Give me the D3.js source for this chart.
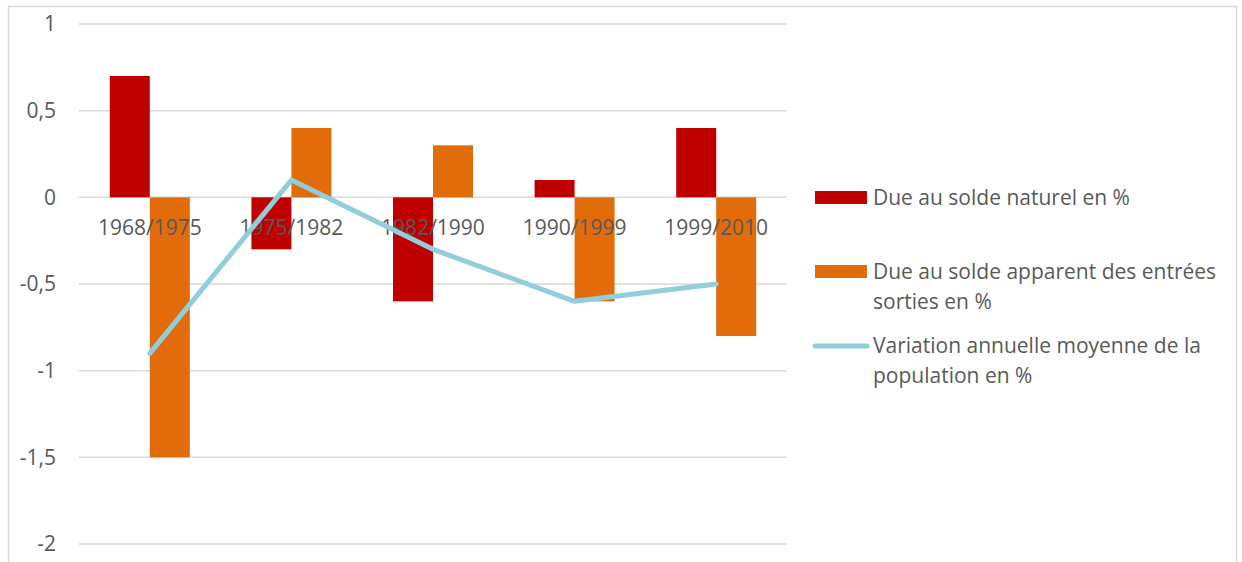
<!DOCTYPE html>
<html>
<head>
<meta charset="utf-8">
<script src="https://cdn.jsdelivr.net/npm/d3@7"></script>
<style>
  body { margin: 0; background: #fff; }
  text { font-family: "Open Sans", sans-serif; fill: #595959; }
</style>
</head>
<body>
<div id="chart"></div>
<script>
var categories = ["1968/1975", "1975/1982", "1982/1990", "1990/1999", "1999/2010"];
var soldeNaturel = [0.7, -0.3, -0.6, 0.1, 0.4];
var soldeApparent = [-1.5, 0.4, 0.3, -0.6, -0.8];
var variation = [-0.9, 0.1, -0.3, -0.6, -0.5];
var yTicks = [1, 0.5, 0, -0.5, -1, -1.5, -2];

var w = 1242;
var h = 562;

var svg = d3.select("#chart").append("svg")
    .attr("width", w)
    .attr("height", h);

// outer frame
svg.append("rect")
    .attr("x", 8.5)
    .attr("y", 6.5)
    .attr("width", 1228)
    .attr("height", 620)
    .attr("fill", "none")
    .attr("stroke", "#d9d9d9")
    .attr("stroke-width", 1.5);

var x = d3.scaleBand()
    .domain(categories)
    .range([79, 787])
    .padding(0);

var y = d3.scaleLinear()
    .domain([-2, 1])
    .range([544, 24]);

var barW = 40;

// gridlines
svg.selectAll(".grid")
    .data(yTicks)
    .enter()
    .append("line")
    .attr("class", "grid")
    .attr("x1", 79)
    .attr("x2", 787)
    .attr("y1", function(d) { return y(d); })
    .attr("y2", function(d) { return y(d); })
    .attr("stroke", "#d9d9d9")
    .attr("stroke-width", 1.5);

// y tick labels
svg.selectAll(".ytick")
    .data(yTicks)
    .enter()
    .append("text")
    .attr("class", "ytick")
    .attr("x", 56)
    .attr("y", function(d) { return y(d); })
    .attr("dy", "0.35em")
    .attr("text-anchor", "end")
    .style("font-size", "21px")
    .text(function(d) { return String(d).replace(".", ","); });

var centers = categories.map(function(c) { return x(c) + x.bandwidth() / 2; });

svg.selectAll(".bar-nat")
    .data(soldeNaturel)
    .enter()
    .append("rect")
    .attr("class", "bar-nat")
    .attr("x", function(d, i) { return centers[i] - barW; })
    .attr("width", barW)
    .attr("y", function(d) { return y(Math.max(0, d)); })
    .attr("height", function(d) { return Math.abs(y(d) - y(0)); })
    .attr("fill", "#c00000");

svg.selectAll(".bar-app")
    .data(soldeApparent)
    .enter()
    .append("rect")
    .attr("class", "bar-app")
    .attr("x", function(d, i) { return centers[i]; })
    .attr("width", barW)
    .attr("y", function(d) { return y(Math.max(0, d)); })
    .attr("height", function(d) { return Math.abs(y(d) - y(0)); })
    .attr("fill", "#e36c0a");

// category labels
svg.selectAll(".cat-label")
    .data(categories)
    .enter()
    .append("text")
    .attr("class", "cat-label")
    .attr("x", function(d, i) { return centers[i]; })
    .attr("y", 228)
    .attr("dy", "0.35em")
    .attr("text-anchor", "middle")
    .style("font-size", "21px")
    .text(function(d) { return d; });

var line = d3.line()
    .x(function(d, i) { return centers[i]; })
    .y(function(d) { return y(d); });

svg.append("path")
    .datum(variation)
    .attr("d", line)
    .attr("fill", "none")
    .attr("stroke", "#92cddc")
    .attr("stroke-width", 5)
    .attr("stroke-linecap", "round")
    .attr("stroke-linejoin", "round");

// legend
var lg = svg.append("g");
lg.append("rect").attr("x", 815).attr("y", 191).attr("width", 52).attr("height", 13).attr("fill", "#c00000");
lg.append("rect").attr("x", 815).attr("y", 265).attr("width", 52).attr("height", 13).attr("fill", "#e36c0a");
lg.append("line").attr("x1", 815).attr("x2", 867).attr("y1", 346).attr("y2", 346)
    .attr("stroke", "#92cddc").attr("stroke-width", 5).attr("stroke-linecap", "round");

var legendText = [
    {y: 198, t: "Due au solde naturel en %"},
    {y: 272, t: "Due au solde apparent des entrées"},
    {y: 302, t: "sorties en %"},
    {y: 346, t: "Variation annuelle moyenne de la"},
    {y: 376, t: "population en %"}
];
lg.selectAll(".lg-text")
    .data(legendText)
    .enter()
    .append("text")
    .attr("class", "lg-text")
    .attr("x", 873)
    .attr("y", function(d) { return d.y; })
    .attr("dy", "0.35em")
    .style("font-size", "21px")
    .text(function(d) { return d.t; });
</script>
</body>
</html>
